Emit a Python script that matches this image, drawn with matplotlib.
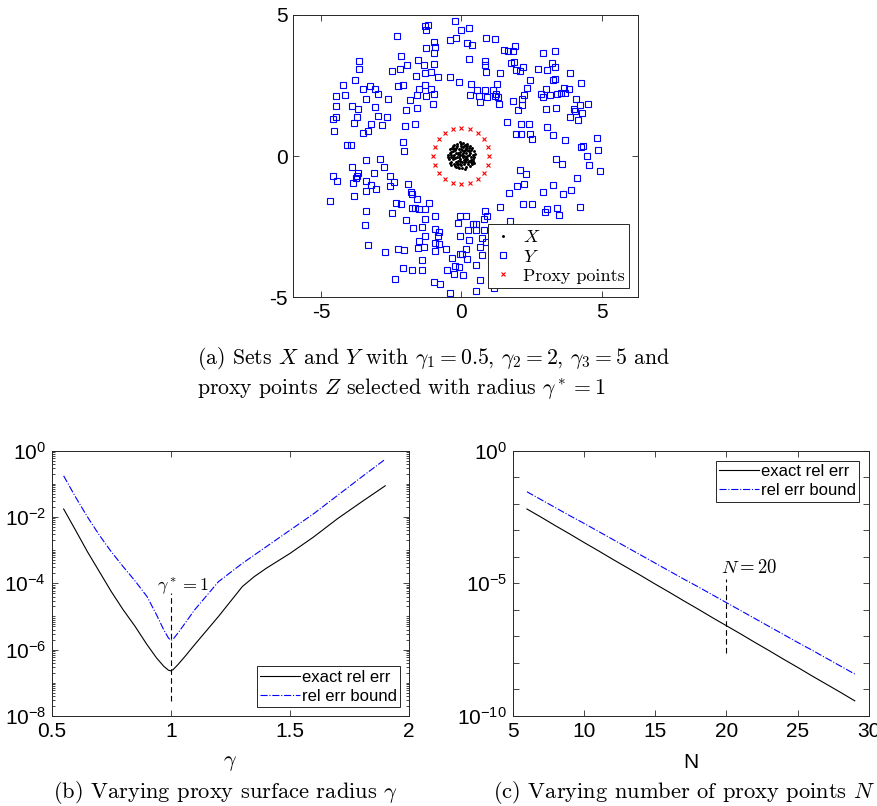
import numpy as np
import matplotlib.pyplot as plt
from matplotlib.ticker import FixedLocator, FuncFormatter, NullFormatter

plt.rcParams["mathtext.fontset"] = "cm"
plt.rcParams["font.family"] = ["Liberation Sans", "DejaVu Sans"]
plt.rcParams["axes.unicode_minus"] = False

SERIF = "cmr10"
FRAME = "#262626"

# (a) point sets
X_PTS = [
    (0.02, 0.05), (-0.10, 0.12), (0.15, -0.03), (-0.22, -0.08), (0.30, 0.10), (0.05, 0.31),
    (-0.05, -0.28), (0.24, -0.22), (-0.31, 0.19), (0.12, 0.22), (-0.18, 0.30), (0.35, -0.14),
    (-0.38, -0.02), (0.08, -0.14), (-0.12, -0.18), (0.20, 0.35), (-0.27, -0.30), (0.40, 0.04),
    (-0.02, 0.42), (0.03, -0.41), (-0.42, 0.10), (0.28, 0.27), (-0.08, 0.24), (0.17, 0.09),
    (-0.25, 0.05), (0.10, -0.30), (-0.15, 0.42), (0.38, -0.28), (-0.35, -0.22), (0.44, 0.18),
    (-0.03, 0.15), (0.22, -0.10), (-0.16, -0.05), (0.06, -0.05), (-0.06, 0.02), (0.12, 0.40),
    (-0.30, 0.36), (0.30, -0.35), (-0.20, -0.40), (0.00, 0.25), (0.18, -0.38), (-0.44, -0.12),
    (0.46, -0.05), (-0.10, -0.38), (0.26, 0.16), (-0.33, 0.28), (0.14, -0.22), (-0.24, 0.20),
    (0.30, 0.36), (-0.40, 0.25), (0.05, 0.10), (-0.12, 0.08), (0.20, 0.00), (-0.20, -0.20),
    (0.10, 0.17), (-0.05, -0.10), (0.35, 0.20), (-0.28, -0.12), (0.02, -0.22), (0.25, -0.30),
    (-0.14, 0.35), (0.08, 0.36), (-0.36, 0.05), (0.42, -0.18), (-0.22, -0.35), (0.15, 0.28),
    (-0.08, -0.44), (0.28, 0.05), (-0.18, 0.12), (0.00, -0.33), (0.38, 0.30), (-0.42, -0.25),
    (0.18, -0.15), (-0.30, -0.05), (0.10, 0.00), (-0.02, 0.34), (0.33, -0.05), (-0.12, -0.28),
    (0.22, 0.22), (-0.26, 0.40), (0.07, 0.45), (-0.35, 0.14), (0.40, -0.10), (-0.09, -0.02),
    (0.13, -0.09), (-0.21, 0.25), (0.27, -0.16), (-0.04, -0.17), (0.04, 0.20), (-0.16, -0.30),
    (0.48, 0.08), (-0.47, 0.02), (0.22, 0.44), (-0.05, 0.48), (0.33, -0.22), (-0.38, -0.32),
    (0.12, -0.46), (-0.28, 0.30), (0.45, -0.25), (-0.48, -0.05),
]
Y_PTS = [
    (-0.24, 4.80), (-1.28, 4.62), (-1.20, 4.66), (-1.27, 4.48), (-0.02, 4.48), (0.27, 4.54),
    (-2.29, 4.26), (-0.40, 4.10), (-0.18, 4.18), (0.88, 4.17), (1.20, 4.16), (-0.96, 4.04),
    (0.20, 4.02), (0.38, 3.94), (-1.25, 3.84), (-0.95, 3.87), (1.53, 3.77), (1.66, 3.71),
    (1.84, 3.71), (1.91, 3.91), (2.92, 3.65), (3.33, 3.73), (-0.96, 3.65), (-2.15, 3.53),
    (-3.64, 3.37), (-1.56, 3.41), (0.27, 3.45), (0.83, 3.36), (0.86, 3.21), (1.76, 3.29),
    (1.88, 3.34), (-1.94, 3.23), (-1.33, 3.22), (-0.97, 3.26), (2.19, 3.17), (3.23, 3.28),
    (-3.66, 3.10), (-2.19, 3.10), (0.87, 2.99), (-2.47, 3.02), (-1.31, 2.96), (-1.08, 2.97),
    (1.38, 2.96), (1.94, 3.04), (2.08, 3.02), (2.73, 3.07), (3.07, 3.05), (3.34, 3.14),
    (3.86, 2.95), (-1.62, 2.85), (-0.84, 2.79), (-0.39, 2.79), (-0.08, 2.64), (-3.78, 2.68),
    (2.45, 2.70), (3.27, 2.68), (3.33, 2.72), (-4.23, 2.52), (-2.27, 2.47), (-2.07, 2.52),
    (-1.30, 2.53), (0.36, 2.55), (1.28, 2.54), (4.28, 2.58), (-3.51, 2.38), (-3.27, 2.48),
    (-3.09, 2.36), (-1.52, 2.39), (-1.09, 2.38), (0.55, 2.34), (0.83, 2.33), (1.13, 2.35),
    (2.34, 2.41), (3.01, 2.36), (3.66, 2.41), (3.84, 2.38), (-4.47, 2.13), (-4.15, 2.15),
    (-2.97, 2.20), (-1.59, 2.16), (-1.26, 2.11), (-0.97, 2.19), (0.30, 2.17), (0.64, 2.14),
    (0.93, 2.09), (1.21, 2.14), (1.30, 2.10), (1.22, 2.21), (2.22, 2.16), (2.15, 2.02),
    (2.84, 2.19), (2.91, 2.10), (3.16, 2.16), (3.40, 2.20), (3.54, 2.23), (3.71, 2.23),
    (4.09, 2.02), (-3.39, 2.01), (-2.60, 2.02), (-1.83, 2.00), (0.68, 1.92), (1.33, 1.85),
    (1.83, 1.95), (2.18, 1.82), (-4.47, 1.77), (-3.90, 1.76), (-3.09, 1.73), (-1.01, 1.85),
    (-1.58, 1.70), (-1.96, 1.62), (-3.70, 1.68), (2.02, 1.64), (3.01, 1.68), (3.38, 1.69),
    (4.01, 1.65), (4.07, 1.58), (4.24, 1.81), (4.51, 1.83), (-4.46, 1.40), (-3.71, 1.38),
    (-2.97, 1.41), (-2.64, 1.38), (3.88, 1.38), (4.29, 1.51), (-3.82, 1.18), (-3.23, 1.13),
    (-2.82, 1.09), (1.62, 1.20), (2.13, 1.13), (2.40, 1.15), (4.17, 1.28), (-4.58, 1.31),
    (-4.54, 0.90), (-3.51, 0.80), (-3.33, 0.90), (-1.99, 1.06), (-1.64, 1.15), (3.07, 1.03),
    (1.95, 0.77), (2.13, 0.77), (2.46, 0.77), (2.53, 0.59), (3.27, 0.76), (3.71, 0.57),
    (4.83, 0.63), (-4.09, 0.40), (-3.95, 0.38), (-2.09, 0.49), (-2.05, 0.17), (4.28, 0.31),
    (4.34, 0.37), (4.87, 0.23), (4.48, 0.00), (-3.41, -0.13), (-2.89, -0.11), (-2.76, -0.38),
    (3.39, -0.10), (3.60, -0.27), (4.57, -0.33), (-3.90, -0.40), (4.96, -0.53), (-4.58, -0.72),
    (-4.42, -0.88), (-3.67, -0.62), (-3.71, -0.71), (-3.76, -0.78), (-3.10, -0.62), (-2.53, -0.72),
    (-2.39, -0.91), (2.08, -0.48), (2.31, -0.63), (4.13, -0.77), (-3.85, -0.97), (-3.39, -0.90),
    (-3.23, -1.02), (-3.04, -1.18), (-3.40, -1.24), (-2.54, -1.05), (-1.91, -1.00), (2.00, -1.05),
    (2.24, -1.00), (3.26, -1.03), (3.92, -1.19), (-4.67, -1.58), (-3.82, -1.41), (-1.78, -1.26),
    (-1.74, -1.35), (-1.57, -1.52), (-1.15, -1.68), (1.69, -1.32), (2.92, -1.29), (3.63, -1.34),
    (-2.34, -1.65), (-2.16, -1.70), (-1.76, -1.85), (-1.65, -1.85), (-1.52, -1.89), (-1.31, -1.89),
    (-3.40, -1.96), (-2.46, -2.02), (-0.94, -2.13), (-0.06, -2.11), (0.18, -2.11), (0.83, -1.94),
    (0.93, -2.13), (1.39, -1.82), (2.20, -1.70), (2.52, -1.70), (3.04, -1.87), (3.41, -1.83),
    (3.47, -2.08), (2.99, -2.00), (4.23, -1.81), (-3.44, -2.44), (-1.97, -2.27), (-1.30, -2.22),
    (-0.11, -2.36), (0.40, -2.42), (0.52, -2.41), (0.82, -2.25), (1.75, -2.29), (-1.72, -2.55),
    (-1.39, -2.51), (-0.93, -2.58), (0.24, -2.63), (0.52, -2.63), (0.82, -2.63), (-0.81, -2.71),
    (-0.84, -2.82), (-1.30, -2.82), (-0.05, -2.82), (-1.51, -3.01), (-1.34, -3.22), (-1.55, -3.26),
    (0.27, -2.97), (0.73, -2.91), (0.89, -3.04), (-0.95, -3.10), (-0.81, -3.11), (0.65, -3.22),
    (-3.34, -3.17), (-2.73, -3.40), (-2.26, -3.28), (-2.05, -3.35), (-0.94, -3.36), (-0.56, -3.28),
    (0.17, -3.31), (0.04, -3.46), (-0.05, -3.48), (0.73, -3.52), (-1.40, -3.69), (-0.33, -3.61),
    (0.21, -3.66), (-2.09, -3.97), (-1.75, -4.03), (-1.40, -4.03), (-0.51, -4.03), (-0.23, -3.90),
    (-0.07, -3.93), (0.54, -3.85), (-0.25, -4.19), (0.06, -4.22), (-2.35, -4.36), (0.65, -4.40),
    (-0.99, -4.48), (-0.77, -4.55), (-0.42, -4.86), (0.52, -4.79), (1.17, -4.67),
]
N_PROXY = 20
PROXY_RADIUS = 1.0

# (b) relative error vs proxy radius gamma (log10 values)
GAMMA = [0.55, 0.60, 0.65, 0.70, 0.75, 0.80, 0.85, 0.90, 0.94, 0.97, 0.99, 1.00,
         1.01, 1.03, 1.06, 1.10, 1.20, 1.30, 1.35, 1.40, 1.50, 1.60, 1.70, 1.80, 1.90]
EXACT_B = [-1.76, -2.40, -3.05, -3.65, -4.25, -4.80, -5.30, -5.85, -6.25, -6.50, -6.62, -6.64,
           -6.60, -6.45, -6.20, -5.85, -5.00, -4.10, -3.80, -3.55, -3.10, -2.60, -2.05, -1.55, -1.06]
BOUND_B = [-0.76, -1.40, -2.00, -2.55, -3.05, -3.50, -3.93, -4.40, -4.95, -5.40, -5.65, -5.72,
           -5.68, -5.50, -5.20, -4.80, -3.95, -3.40, -3.15, -2.90, -2.40, -1.90, -1.35, -0.80, -0.26]

# (c) relative error vs number of proxy points N (log10 values)
N_VALS = list(range(6, 30))
EXACT_C = [-2.20, -2.51, -2.83, -3.14, -3.46, -3.77, -4.09, -4.40, -4.71, -5.03, -5.34, -5.66,
           -5.97, -6.29, -6.60, -6.91, -7.23, -7.54, -7.86, -8.17, -8.49, -8.80, -9.11, -9.43]
BOUND_C = [-1.55, -1.85, -2.15, -2.45, -2.74, -3.04, -3.34, -3.64, -3.94, -4.24, -4.54, -4.84,
           -5.13, -5.43, -5.73, -6.03, -6.33, -6.63, -6.93, -7.23, -7.52, -7.82, -8.12, -8.42]

TICK_SIZE = 15
LEGEND_SIZE = 12
CAPTION_SIZE = 15.7


def style_axes(ax):
    for sp in ax.spines.values():
        sp.set_color(FRAME)
        sp.set_linewidth(0.7)
    ax.tick_params(which="both", direction="in", top=True, right=True,
                   color=FRAME, width=0.6, labelsize=TICK_SIZE, pad=4)
    ax.tick_params(which="major", length=4.5)
    ax.tick_params(which="minor", length=2.5)


def pow10(v, pos):
    return r"$\mathregular{10^{%d}}$" % round(np.log10(v))


def err_legend(ax, loc, anchor):
    leg = ax.legend(loc=loc, bbox_to_anchor=anchor, fontsize=LEGEND_SIZE,
                    fancybox=False, framealpha=1, edgecolor=FRAME, borderpad=0.2,
                    handlelength=2.4, handletextpad=0.1, labelspacing=0.25, borderaxespad=0)
    leg.get_frame().set_linewidth(0.7)
    return leg


fig = plt.figure(figsize=(8.77, 8.06), dpi=100)

# ---- (a) scatter of the point sets ----
ax_a = fig.add_axes([0.3341, 0.6315, 0.3934, 0.3499])
xs, ys = np.array(X_PTS).T
yx, yy = np.array(Y_PTS).T
theta = 2 * np.pi * np.arange(N_PROXY) / N_PROXY
ax_a.plot(xs, ys, ".", color="k", ms=2.2, label="$X$")
ax_a.plot(yx, yy, "s", color="b", mfc="none", ms=4, mew=0.8, label="$Y$")
ax_a.plot(PROXY_RADIUS * np.cos(theta), PROXY_RADIUS * np.sin(theta), "x",
          color="r", ms=3.5, mew=0.8, label="Proxy points")
ax_a.set_xlim(-6, 6.3)
ax_a.set_ylim(-5, 5)
ax_a.set_xticks([-5, 0, 5])
ax_a.set_yticks([-5, 0, 5])
style_axes(ax_a)
leg_a = ax_a.legend(loc="lower right", bbox_to_anchor=(0.974, 0.031),
                    prop={"family": SERIF, "size": 13},
                    fancybox=False, framealpha=1, edgecolor=FRAME, borderpad=0.25,
                    handlelength=1.2, handletextpad=0.5, labelspacing=0.2, borderaxespad=0)
leg_a.get_frame().set_linewidth(0.7)

fig.text(196.7 / 877, 1 - 345 / 806,
         "(a) Sets $X$ and $Y$ with $\\gamma_1 = 0.5$, $\\gamma_2 = 2$, $\\gamma_3 = 5$ and\n"
         "proxy points $Z$ selected with radius $\\gamma^* = 1$",
         family=SERIF, fontsize=CAPTION_SIZE, ha="left", va="top", linespacing=1.3)

# ---- (b) error vs gamma ----
ax_b = fig.add_axes([0.0590, 0.1117, 0.4074, 0.3292])
ax_b.plot(GAMMA, 10.0 ** np.array(EXACT_B), "-", color="k", lw=0.8, label="exact rel err")
ax_b.plot(GAMMA, 10.0 ** np.array(BOUND_B), "-.", color="b", lw=0.8, label="rel err bound")
ax_b.plot([1, 1], [10 ** -7.54, 10 ** -4.28], "--", color="k", lw=0.8, dashes=(5, 3))
ax_b.text(0.94, 10 ** -4.1, r"$\gamma^* = 1$", fontsize=13, ha="left", va="center")
ax_b.set_yscale("log")
ax_b.set_xlim(0.5, 2)
ax_b.set_ylim(1e-8, 1)
ax_b.set_xticks([0.5, 1, 1.5, 2])
ax_b.set_xticklabels(["0.5", "1", "1.5", "2"])
ax_b.yaxis.set_major_locator(FixedLocator([1e-8, 1e-6, 1e-4, 1e-2, 1e0]))
ax_b.yaxis.set_major_formatter(FuncFormatter(pow10))
minor_b = [m * 10.0 ** k for k in range(-8, 0) for m in range(1, 10)]
ax_b.yaxis.set_minor_locator(FixedLocator(minor_b))
ax_b.yaxis.set_minor_formatter(NullFormatter())
style_axes(ax_b)
ax_b.set_xlabel(r"$\gamma$", fontsize=16, va="center")
ax_b.xaxis.set_label_coords(0.5, -0.177)
err_legend(ax_b, "lower right", (0.975, 0.033))
fig.text(225 / 877, 1 - 792 / 806, r"(b) Varying proxy surface radius $\gamma$",
         family=SERIF, fontsize=16.2, ha="center", va="center")

# ---- (c) error vs N ----
ax_c = fig.add_axes([0.5846, 0.1117, 0.4063, 0.3292])
ax_c.plot(N_VALS, 10.0 ** np.array(EXACT_C), "-", color="k", lw=0.8, label="exact rel err")
ax_c.plot(N_VALS, 10.0 ** np.array(BOUND_C), "-.", color="b", lw=0.8, label="rel err bound")
ax_c.plot([20, 20], [10 ** -7.64, 10 ** -4.85], "--", color="k", lw=0.8, dashes=(5, 3))
ax_c.text(19.6, 10 ** -4.41, r"$N = 20$", fontsize=13.5, ha="left", va="center")
ax_c.set_yscale("log")
ax_c.set_xlim(5, 30)
ax_c.set_ylim(1e-10, 1)
ax_c.set_xticks([5, 10, 15, 20, 25, 30])
ax_c.yaxis.set_major_locator(FixedLocator([1e-10, 1e-5, 1e0]))
ax_c.yaxis.set_major_formatter(FuncFormatter(pow10))
ax_c.yaxis.set_minor_locator(FixedLocator([10.0 ** k for k in range(-10, 1)]))
ax_c.yaxis.set_minor_formatter(NullFormatter())
style_axes(ax_c)
ax_c.tick_params(which="minor", length=4.5)
ax_c.set_xlabel("N", fontsize=15, va="center")
ax_c.xaxis.set_label_coords(0.5, -0.177)
err_legend(ax_c, "upper right", (0.973, 0.962))
fig.text(684 / 877, 1 - 792 / 806, r"(c) Varying number of proxy points $N$",
         family=SERIF, fontsize=16.2, ha="center", va="center")

fig.savefig("out.png", dpi=100)
